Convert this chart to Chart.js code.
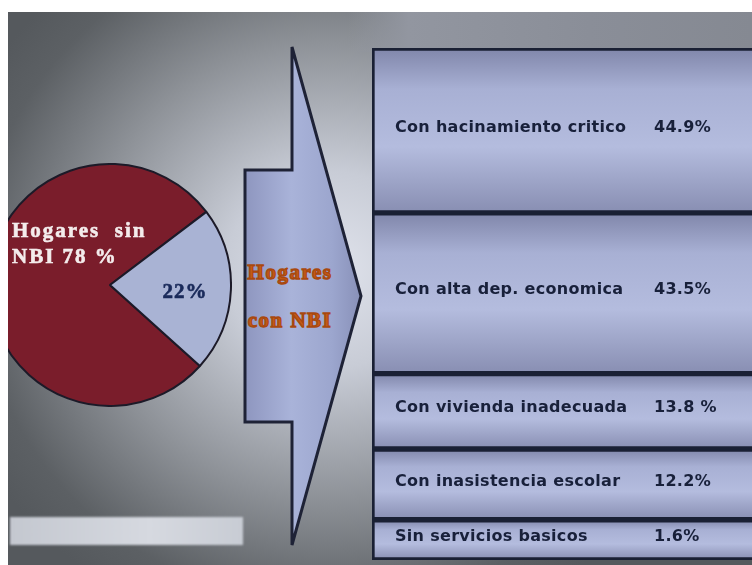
<!DOCTYPE html>
<html lang="es">
<head>
<meta charset="utf-8">
<script src="https://cdn.jsdelivr.net/npm/chart.js@4.4.1/dist/chart.umd.min.js"></script>
<style>
  html, body { margin: 0; padding: 0; width: 752px; height: 565px; overflow: hidden; background: #fff; }
  #slide {
    position: absolute; left: 8px; top: 12px; width: 744px; height: 553px; overflow: hidden;
    background: radial-gradient(ellipse 400px 380px at 322px 258px, #e0e3ec 0%, #c8ccd6 26%, #8e9298 60%, #5c6064 88%, #55595d 100%);
  }
  #topRight { position: absolute; left: 340px; top: 0; width: 404px; height: 40px;
    background: linear-gradient(90deg, rgba(200,204,216,0) 0%, #9296a0 15%, #8a8e98 60%, #858992 100%); }
  #pieBox { position: absolute; left: -20px; top: 151px; width: 244px; height: 244px; }
  #arrow { position: absolute; left: 0; top: 0; }
  #boxes { position: absolute; left: 364px; top: 36px; width: 380px; height: 512px; }
  #bar { position: absolute; left: 2px; top: 505px; width: 233px; height: 28px;
    background: linear-gradient(90deg, #c4c8d0, #d6d9e0 60%, #c8ccd4); filter: blur(1px); }
</style>
</head>
<body>
<div id="slide">
  <div id="topRight"></div>
  <div id="bar"></div>
  <svg id="arrow" width="744" height="553">
    <defs>
      <linearGradient id="ag" x1="237" y1="0" x2="353" y2="0" gradientUnits="userSpaceOnUse">
        <stop offset="0" stop-color="#8e96bf"/>
        <stop offset="0.4" stop-color="#a9b3d9"/>
        <stop offset="0.75" stop-color="#9ca6ce"/>
        <stop offset="1" stop-color="#8890b8"/>
      </linearGradient>
    </defs>
    <polygon points="237,158 284,158 284,35 353,284 284,533 284,410 237,410"
      fill="url(#ag)" stroke="#1e2236" stroke-width="3" stroke-linejoin="miter"/>
  </svg>
  <div id="pieBox"><canvas id="pieChart"></canvas></div>
  <div id="boxes"><canvas id="boxChart"></canvas></div>
</div>
<script>
// Datos del grafico
const pieLabels = ['Hogares sin NBI', 'Hogares con NBI'];
const pieValues = [78, 22];
const pieTexts = [['Hogares  sin', 'NBI 78 %'], ['22%']];

const nbiCategories = ['Con hacinamiento critico', 'Con alta dep. economica', 'Con vivienda inadecuada', 'Con inasistencia escolar', 'Sin servicios basicos'];
const nbiValues = [44.9, 43.5, 13.8, 12.2, 1.6];
const nbiValueLabels = ['44.9%', '43.5%', '13.8 %', '12.2%', '1.6%'];

// Texto de la flecha
const arrowTexts = ['Hogares', 'con NBI'];

// los recuadros no son proporcionales: se agrega un margen fijo a cada uno
const BOX_PAD = 12.4;
const boxWeights = nbiValues.map(v => v + BOX_PAD);
const boxTotal = boxWeights.reduce((a, b) => a + b, 0);
const boxStarts = boxWeights.map((w, i) => boxWeights.slice(0, i).reduce((a, b) => a + b, 0));

// texto de la flecha (en el svg, como texto real)
const svg = document.getElementById('arrow');
arrowTexts.forEach((t, i) => {
  const el = document.createElementNS('http://www.w3.org/2000/svg', 'text');
  el.setAttribute('x', 282);
  el.setAttribute('y', [267, 315][i]);
  el.setAttribute('text-anchor', 'middle');
  el.setAttribute('font-family', 'Liberation Serif');
  el.setAttribute('font-weight', 'bold');
  el.setAttribute('font-size', '21');
  el.setAttribute('letter-spacing', '1.5');
  el.setAttribute('fill', '#c45a16');
  el.setAttribute('stroke', '#a8480e');
  el.setAttribute('stroke-width', '1.3');
  el.textContent = t;
  svg.appendChild(el);
});

// Etiquetas dentro del pastel
const pieTextPlugin = {
  id: 'pieText',
  afterDatasetsDraw(chart) {
    const ctx = chart.ctx;
    const arcs = chart.getDatasetMeta(0).data;
    const cx = arcs[0].x, cy = arcs[0].y, r = arcs[0].outerRadius;
    ctx.save();
    ctx.font = 'bold 21px "Liberation Serif"';
    ctx.letterSpacing = '2px';
    ctx.textBaseline = 'middle';
    ctx.textAlign = 'left';
    ctx.fillStyle = '#f4ecec';
    ctx.strokeStyle = '#f4ecec';
    ctx.lineWidth = 0.6;
    pieTexts[0].forEach((t, k) => {
      const y = cy - r * (k === 0 ? 0.44 : 0.23);
      ctx.fillText(t, cx - r * 0.81, y);
      ctx.strokeText(t, cx - r * 0.81, y);
    });
    ctx.letterSpacing = '1px';
    ctx.textAlign = 'center';
    ctx.fillStyle = '#1a2a5a';
    ctx.strokeStyle = '#1a2a5a';
    ctx.fillText(pieTexts[1][0], cx + r * 0.62, cy + r * 0.06);
    ctx.strokeText(pieTexts[1][0], cx + r * 0.62, cy + r * 0.06);
    ctx.restore();
  }
};

new Chart(document.getElementById('pieChart'), {
  type: 'pie',
  data: {
    labels: pieLabels,
    datasets: [{
      data: pieValues,
      backgroundColor: ['#7a1d2b', '#a9b3d4'],
      borderColor: '#1c1a28',
      borderWidth: 2
    }]
  },
  options: {
    responsive: true,
    maintainAspectRatio: false,
    animation: false,
    rotation: 132,
    layout: { padding: 0 },
    plugins: { legend: { display: false }, tooltip: { enabled: false } }
  },
  plugins: [pieTextPlugin]
});

// Relleno de cada recuadro
function boxFill(context) {
  const chart = context.chart;
  if (!chart.chartArea || !chart.scales.y) return '#a6aed2';
  const y = chart.scales.y;
  const i = context.datasetIndex;
  const y0 = y.getPixelForValue(boxStarts[i]);
  const y1 = y.getPixelForValue(boxStarts[i] + boxWeights[i]);
  const g = chart.ctx.createLinearGradient(0, y0, 0, y1);
  g.addColorStop(0, '#8086aa');
  g.addColorStop(0.25, '#a8b0d4');
  g.addColorStop(0.6, '#b4bcde');
  g.addColorStop(1, '#888eb2');
  return g;
}

const boxTextPlugin = {
  id: 'boxText',
  afterDatasetsDraw(chart) {
    const ctx = chart.ctx;
    ctx.save();
    ctx.font = 'bold 16px "DejaVu Sans"';
    ctx.letterSpacing = '0.3px';
    ctx.textBaseline = 'middle';
    ctx.textAlign = 'left';
    ctx.fillStyle = '#18203a';
    chart.data.datasets.forEach((ds, i) => {
      const bar = chart.getDatasetMeta(i).data[0];
      const mid = (bar.y + bar.base) / 2 - 3;
      ctx.fillText(nbiCategories[i], 23, mid);
      ctx.fillText(nbiValueLabels[i], 282, mid);
    });
    ctx.restore();
  }
};

new Chart(document.getElementById('boxChart'), {
  type: 'bar',
  data: {
    labels: ['NBI'],
    datasets: nbiCategories.map((c, i) => ({
      label: c,
      data: [boxWeights[i]],
      backgroundColor: boxFill,
      borderColor: '#1a2034',
      borderWidth: { top: 3, bottom: 3, left: 3, right: 0 },
      borderSkipped: false,
      barPercentage: 1,
      categoryPercentage: 1
    }))
  },
  options: {
    responsive: true,
    maintainAspectRatio: false,
    animation: false,
    layout: { padding: 0 },
    scales: {
      x: { stacked: true, display: false },
      y: { stacked: true, display: false, reverse: true, min: 0, max: boxTotal }
    },
    plugins: { legend: { display: false }, tooltip: { enabled: false } }
  },
  plugins: [boxTextPlugin]
});
</script>
</body>
</html>
